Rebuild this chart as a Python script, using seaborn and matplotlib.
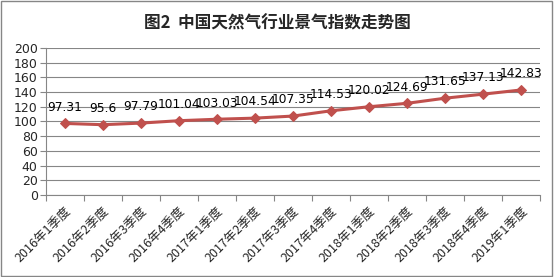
import matplotlib
matplotlib.use("Agg")
import matplotlib.pyplot as plt
import seaborn as sns
import pandas as pd
from matplotlib.ticker import FixedLocator, MultipleLocator
from matplotlib.patches import Rectangle

categories = ["2016年1季度", "2016年2季度", "2016年3季度", "2016年4季度",
              "2017年1季度", "2017年2季度", "2017年3季度", "2017年4季度",
              "2018年1季度", "2018年2季度", "2018年3季度", "2018年4季度",
              "2019年1季度"]
values = [97.31, 95.6, 97.79, 101.04, 103.03, 104.54, 107.35, 114.53,
          120.02, 124.69, 131.65, 137.13, 142.83]
title = "图2  中国天然气行业景气指数走势图"

sns.set_theme(style="white")
plt.rcParams['font.family'] = ['Noto Sans CJK SC', 'DejaVu Sans']

df = pd.DataFrame({"q": categories, "v": values})
fig = plt.figure(figsize=(5.54, 2.77), dpi=100)
ax = fig.add_axes([0.083, 0.296, 0.892, 0.531])

color = "#C0504D"
sns.lineplot(data=df, x="q", y="v", ax=ax, color=color, linewidth=2.2,
             marker="D", markersize=5, markeredgecolor=color, sort=False)

for i, v in enumerate(values):
    ax.annotate(f"{v:g}", (i, v), xytext=(0, 7), textcoords="offset points",
                ha="center", va="bottom", fontsize=8.8, color="black",
                family=['DejaVu Sans'])

ax.set_xlim(-0.5, len(categories) - 0.5)
ax.set_ylim(0, 200)
ax.yaxis.set_major_locator(MultipleLocator(20))
ax.grid(axis="y", color="#868686", linewidth=0.8)
ax.set_axisbelow(True)
for s in ["top", "right"]:
    ax.spines[s].set_visible(False)
for s in ["left", "bottom"]:
    ax.spines[s].set_color("#868686")
    ax.spines[s].set_linewidth(0.8)

ax.set_xlabel("")
ax.set_ylabel("")
ax.set_xticks(range(len(categories)))
ax.set_xticklabels(categories, rotation=45, ha="right", rotation_mode="anchor",
                   fontsize=9)
ax.xaxis.set_minor_locator(FixedLocator([i - 0.5 for i in range(len(categories) + 1)]))
ax.tick_params(axis="x", which="major", length=0, pad=7)
ax.tick_params(axis="x", which="minor", length=4, color="#868686", width=0.8, bottom=True)
ax.tick_params(axis="y", length=4, color="#868686", width=0.8, left=True, labelsize=9, pad=2)
for t in ax.get_yticklabels():
    t.set_family(['DejaVu Sans'])

fig.text(0.5, 0.915, title, ha="center", va="center", fontsize=12, fontweight="bold")
fig.patches.append(Rectangle((0.002, 0.003), 0.995, 0.993, transform=fig.transFigure,
                             fill=False, edgecolor="#868686", linewidth=1))

fig.savefig("out.png", dpi=100)
